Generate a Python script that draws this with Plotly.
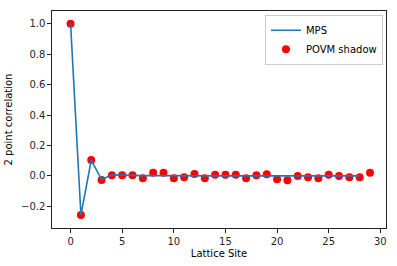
import plotly.graph_objects as go

sites_mps = list(range(29))
mps_corr = [1.0, -0.257, 0.103, -0.024, 0.007, 0.004, 0.003, 0.002, 0.002, 0.001,
            0.001, 0.001, 0.001, 0.0, 0.0, 0.0, 0.0, 0.0, 0.0, 0.0,
            0.0, 0.0, 0.0, 0.0, 0.0, 0.0, 0.0, 0.0, 0.0]

sites_povm = list(range(30))
povm_corr = [1.0, -0.257, 0.105, -0.026, 0.005, 0.005, 0.005, -0.015, 0.021, 0.021,
             -0.015, -0.008, 0.013, -0.015, 0.007, 0.007, 0.007, -0.015, 0.005, 0.011,
             -0.022, -0.028, 0.0, -0.009, -0.015, 0.007, 0.0, -0.009, -0.009, 0.020]

x_ticks = [0, 5, 10, 15, 20, 25, 30]
y_ticks = [-0.2, 0.0, 0.2, 0.4, 0.6, 0.8, 1.0]

fig = go.Figure()
fig.add_trace(go.Scatter(
    x=sites_povm, y=povm_corr, mode="markers", name="POVM shadow",
    marker=dict(color="red", size=8, line=dict(width=0))))
fig.add_trace(go.Scatter(
    x=sites_mps, y=mps_corr, mode="lines", name="MPS",
    line=dict(color="#1f77b4", width=1.6)))

axis_common = dict(showline=True, linecolor="#222222", linewidth=1.2, mirror=True,
                   ticks="outside", ticklen=3.5, tickwidth=1, tickcolor="#222222",
                   showgrid=False, zeroline=False, automargin=False,
                   tickfont=dict(family="DejaVu Sans", size=10, color="#262626"))

fig.update_xaxes(range=[-1.8, 30.55], tickvals=x_ticks,
                 title=dict(text="Lattice Site", font=dict(family="DejaVu Sans", size=10, color="black"), standoff=4),
                 **axis_common)
fig.update_yaxes(range=[-0.342, 1.083], tickvals=y_ticks, tickformat=".1f",
                 title=dict(text="2 point correlation", font=dict(family="DejaVu Sans", size=10, color="black"), standoff=6),
                 **axis_common)

fig.update_layout(
    width=397, height=266,
    margin=dict(l=52, r=11, t=11, b=38),
    paper_bgcolor="white", plot_bgcolor="white",
    font=dict(family="DejaVu Sans", size=10, color="black"),
    legend=dict(x=0.991, y=0.983, xanchor="right", yanchor="top",
                traceorder="reversed",
                bordercolor="#cccccc", borderwidth=1, bgcolor="rgba(255,255,255,0.8)",
                font=dict(family="DejaVu Sans", size=10, color="black"),
                itemwidth=30, tracegroupgap=0),
    showlegend=True,
)

fig.write_html("out.html", config={"displayModeBar": False},
               post_script="document.body.style.margin='0';document.body.style.padding='0';")
